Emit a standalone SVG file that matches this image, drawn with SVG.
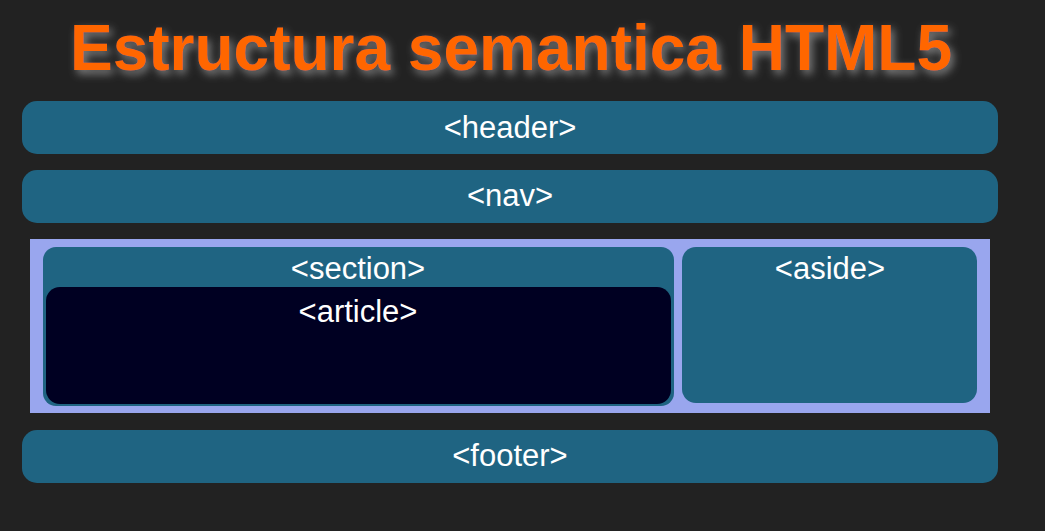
<svg xmlns="http://www.w3.org/2000/svg" width="1045" height="531" viewBox="0 0 1045 531">
<style>
.box{fill:#1f6482}
.lbl{font-family:"Liberation Sans",Arial,sans-serif;font-size:31px;fill:#ffffff;text-anchor:middle}
.title{font-family:"Liberation Sans",Arial,sans-serif;font-weight:bold;font-size:64px;fill:#ff6600;text-anchor:middle}
</style>
<defs>
<filter id="sh" x="-10%" y="-50%" width="120%" height="200%">
<feDropShadow dx="3" dy="4" stdDeviation="4" flood-color="#888888" flood-opacity="0.9"/>
</filter>
</defs>
<rect width="1045" height="531" fill="#222222"/>
<text class="title" x="511" y="70" filter="url(#sh)">Estructura semantica HTML5</text>
<g id="header"><rect class="box" x="22" y="101" width="976" height="53" rx="15"/><text class="lbl" x="510" y="138">&lt;header&gt;</text></g>
<g id="nav"><rect class="box" x="22" y="170" width="976" height="53" rx="15"/><text class="lbl" x="510" y="206">&lt;nav&gt;</text></g>
<g id="main"><rect x="30" y="239" width="960" height="174" fill="#99a6ee"/></g>
<g id="section"><rect class="box" x="43" y="247" width="631" height="159" rx="13"/><text class="lbl" x="358" y="279">&lt;section&gt;</text></g>
<g id="article"><rect x="46" y="287" width="625" height="117" rx="14" fill="#000022"/><text class="lbl" x="358" y="322">&lt;article&gt;</text></g>
<g id="aside"><rect class="box" x="682" y="247" width="295" height="156" rx="14"/><text class="lbl" x="830" y="279">&lt;aside&gt;</text></g>
<g id="footer"><rect class="box" x="22" y="430" width="976" height="53" rx="15"/><text class="lbl" x="510" y="466">&lt;footer&gt;</text></g>
<g id="connectors"/>
</svg>
